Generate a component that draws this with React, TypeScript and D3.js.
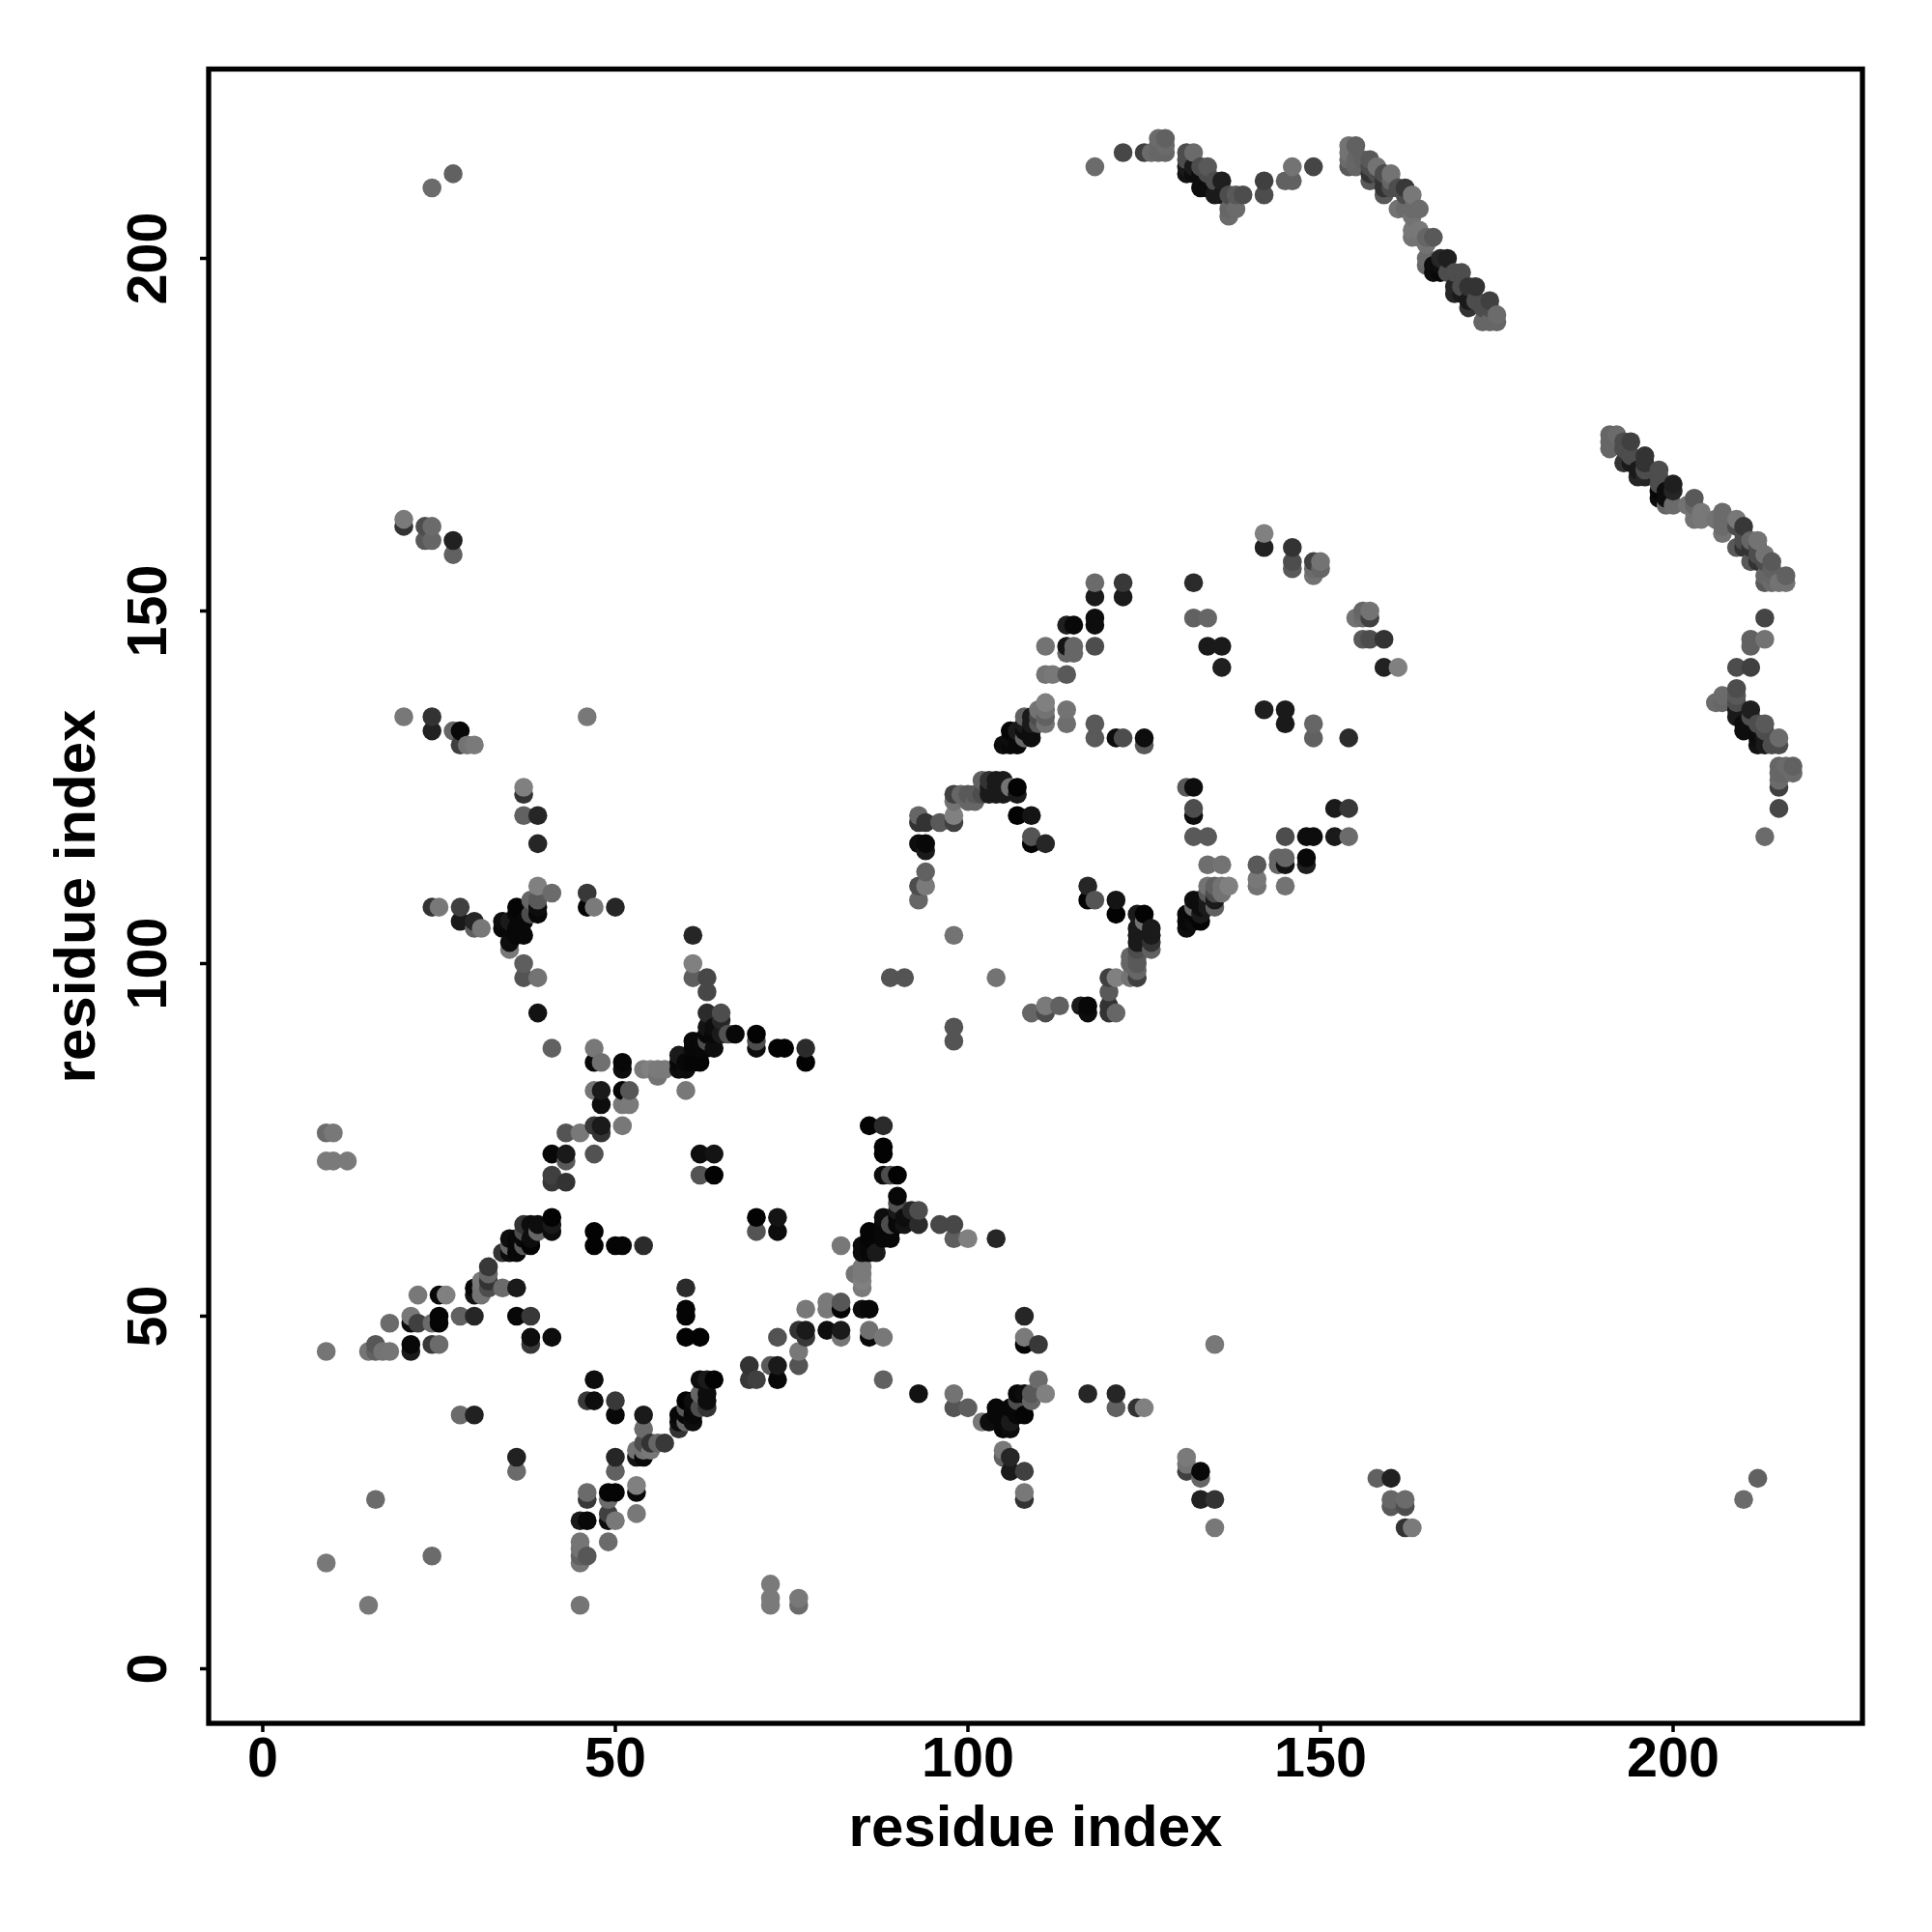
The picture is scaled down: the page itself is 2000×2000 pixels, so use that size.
import React from "react";
import * as d3 from "d3";

// Contacts as [residue i, residue j, grey level 0..1], i < j; the map is symmetric.
const nTerminalContacts = [[9,15,.47],[9,45,.46],[15,45,.46],[16,24,.42],[16,45,.38],[16,46,.34],[17,45,.45],[18,45,.46],[18,49,.42],[9,72,.48],[10,72,.48],[12,72,.48],[9,76,.42],[10,76,.47],[21,45,.1],[21,46,.03],[21,49,.05],[21,50,.47],[22,49,.25],[22,53,.47],[24,46,.22],[24,49,.42],[25,46,.42],[25,49,.02],[25,50,.02],[25,53,.03],[26,53,.5],[28,36,.42],[28,50,.38],[30,36,.13],[30,50,.15],[30,53,.08],[30,54,.03],[31,53,.45],[31,54,.45],[31,55,.47],[32,54,.3],[32,55,.2],[32,56,.4],[32,57,.22],[34,54,.42],[36,54,.1],[36,50,.03],[38,50,.22],[38,46,.22],[38,47,.05],[41,47,.05]];
const strandContactsA = [[34,59,.2],[35,59,.05],[36,59,.03],[35,60,.4],[36,60,.03],[37,60,.35],[38,60,.01],[35,61,.05],[36,61,.03],[37,61,.03],[38,61,.05],[37,62,.3],[39,62,.4],[41,62,.05],[37,63,.2],[38,63,.05],[39,63,.05],[41,63,.1],[41,64,.01],[47,60,.01],[50,60,.02],[51,60,.02],[54,60,.17],[47,62,.01],[41,69,.22],[43,69,.2],[41,70,.25],[41,73,.03],[43,72,.35],[43,73,.1],[47,73,.32],[43,76,.33],[45,76,.47],[48,76,.2],[47,77,.22],[48,77,.1],[51,77,.47],[62,70,.33],[64,70,.01],[62,73,.05],[64,73,.08]];
const strandContactsB = [[48,80,.05],[51,80,.47],[52,80,.48],[47,82,.46],[48,82,.1],[51,82,.02],[52,82,.34],[60,82,.47],[54,85,.48],[55,85,.5],[56,85,.48],[56,84,.45],[57,85,.48],[51,85,.05],[51,86,.03],[47,86,.03],[48,86,.44],[47,88,.47],[41,88,.38],[59,85,.05],[60,85,.05],[59,86,.03],[60,86,.03],[61,86,.02],[62,86,.02],[59,87,.1],[61,88,.03],[62,88,.03],[63,88,.03],[64,88,.05],[61,89,.03],[62,89,.03],[63,89,.3],[63,90,.03],[64,90,.03],[65,90,.1],[66,90,.32],[67,90,.03],[63,91,.08],[64,91,.05],[65,92,.15],[63,93,.17],[65,93,.3],[63,96,.28],[61,98,.37],[63,98,.28],[61,100,.5],[61,104,.15],[70,88,.05],[70,89,.3],[70,90,.01],[73,88,.01],[74,88,.01],[77,88,.17],[77,86,.01]];
const middleContacts = [[37,98,.33],[37,100,.37],[39,93,.07],[39,98,.45],[24,133,.13],[24,135,.2],[20,135,.47],[27,133,.4],[28,133,.03],[28,131,.25],[29,131,.45],[30,131,.48],[37,125,.5],[37,124,.2],[37,121,.38],[39,121,.15],[39,117,.15],[39,111,.5],[41,110,.42],[38,109,.4],[39,109,.35],[39,108,.05],[39,107,.03],[36,108,.02],[38,107,.3],[36,107,.03],[37,106,.03],[37,104,.03],[34,106,.05],[35,106,.1],[34,105,.03],[35,105,.03],[36,105,.03],[35,103,.05],[35,102,.47],[36,104,.03],[24,108,.2],[25,108,.47],[28,108,.25],[28,106,.1],[30,106,.15],[30,105,.38],[31,105,.47],[46,135,.47],[46,110,.22],[46,108,.02],[47,108,.48],[50,108,.15]];
const helixContacts = [[89,98,.33],[91,98,.33],[98,104,.45],[93,109,.4],[93,111,.3],[94,111,.48],[94,113,.38],[93,117,.05],[94,117,.03],[94,116,.1],[93,120,.2],[94,120,.2],[96,120,.35],[93,121,.4],[98,120,.25],[98,121,.5],[98,123,.45],[98,124,.25],[99,124,.4],[100,124,.35],[101,124,.35],[100,123,.4],[101,123,.4],[102,124,.3],[102,126,.38],[103,126,.2],[104,126,.1],[105,126,.1],[103,125,.1],[104,125,.1],[105,125,.1],[106,125,.45],[107,125,.01],[107,124,.1],[103,124,.1],[104,124,.1],[105,124,.1],[107,121,.01],[109,121,.08],[109,118,.33],[109,117,.02],[111,117,.15]];
const turnContacts = [[105,131,.05],[106,131,.03],[107,131,.03],[106,132,.05],[107,132,.03],[108,132,.4],[109,132,.05],[106,133,.02],[107,133,.1],[108,133,.05],[109,133,.05],[108,134,.1],[109,134,.1],[110,134,.35],[111,134,.45],[108,135,.38],[109,135,.1],[110,135,.3],[111,135,.38],[110,136,.45],[111,136,.45],[111,137,.5],[114,134,.43],[114,136,.45],[118,132,.35],[118,134,.35],[121,132,.05],[122,132,.3],[125,131,.35],[125,132,.05],[111,141,.45],[112,141,.47],[114,141,.35],[111,145,.45],[114,144,.4],[115,144,.4],[114,145,.08],[115,145,.4],[118,145,.3],[114,148,.12],[115,148,.03],[118,148,.05],[118,149,.05],[118,152,.1],[122,152,.1],[118,154,.42],[122,154,.22]];
const sheetContacts = [[132,149,.38],[134,149,.4],[132,154,.17],[134,145,.1],[136,145,.1],[136,142,.12],[142,159,.13],[142,161,.5],[146,159,.2],[146,157,.3],[146,156,.35],[149,157,.25],[150,157,.45],[150,156,.4],[149,155,.45],[149,156,.42]];
const distantContacts = [[20,163,.48],[20,162,.2],[23,162,.3],[24,162,.42],[23,160,.35],[24,160,.4],[27,160,.13],[27,158,.38],[24,210,.42],[27,212,.38],[118,213,.42],[122,215,.28],[125,215,.25],[126,215,.42],[127,215,.4],[128,215,.4],[127,216,.4],[128,216,.42],[127,217,.42],[128,217,.38],[131,212,.07],[132,212,.05],[133,212,.05],[134,212,.3],[131,213,.1],[132,213,.1],[133,213,.3],[134,213,.35],[131,214,.3],[131,215,.3],[132,215,.42],[133,210,.05],[134,210,.05],[135,209,.1],[136,209,.1],[135,211,.3],[136,211,.12],[137,209,.3],[138,209,.35],[139,209,.3],[137,207,.4],[138,207,.42],[137,206,.42],[142,209,.3],[142,211,.25],[145,211,.38],[146,211,.38],[146,213,.45],[149,213,.27]];
const betaLadderA = [[154,213,.35],[154,214,.42],[154,215,.45],[154,216,.45],[155,213,.4],[155,214,.4],[155,216,.38],[156,214,.38],[157,211,.35],[157,212,.2],[157,213,.3],[157,214,.35],[158,212,.3],[158,213,.45],[159,209,.35],[159,210,.2],[159,211,.2],[159,212,.3],[160,210,.3],[160,211,.4],[160,212,.45],[161,207,.45],[161,210,.3],[162,207,.42],[162,209,.3],[162,210,.22],[163,206,.45],[163,207,.42],[163,209,.47],[164,207,.42]];
const betaLadderB = [[163,203,.45],[163,204,.47],[164,203,.45],[164,204,.47],[165,199,.4],[165,200,.42],[165,202,.45],[165,203,.4],[166,198,.05],[166,199,.05],[166,203,.35],[167,198,.03],[167,199,.05],[167,200,.15],[168,198,.3],[168,200,.12],[169,195,.15],[169,196,.15],[169,198,.3],[170,195,.1],[170,196,.3],[170,198,.3],[171,193,.2],[171,194,.1],[171,196,.2],[172,194,.3],[172,196,.2],[173,191,.4],[173,193,.3],[174,191,.4],[174,193,.3],[174,194,.25],[175,191,.4],[175,192,.42]];

const contacts = [...nTerminalContacts, ...strandContactsA, ...strandContactsB, ...middleContacts, ...helixContacts, ...turnContacts, ...sheetContacts, ...distantContacts, ...betaLadderA, ...betaLadderB];
const xTicks = [0, 50, 100, 150, 200];
const yTicks = [0, 50, 100, 150, 200];
const axisLabel = "residue index";

const FONT = "'Liberation Sans', Arial, sans-serif";

export default function App() {
  const left = 216, right = 1928, top = 71.5, bottom = 1784;
  const x = d3.scaleLinear().domain([0, 200]).range([272, 1732]);
  const y = d3.scaleLinear().domain([0, 200]).range([1727.5, 267.5]);
  const pts: { x: number; y: number; g: number }[] = [];
  for (const [i, j, g] of contacts) {
    pts.push({ x: i, y: j, g }, { x: j, y: i, g });
  }
  pts.sort((p, q) => d3.ascending(p.x, q.x) || d3.ascending(p.y, q.y));
  const shade = d3.interpolateRgb("#000000", "#ffffff");
  return (
    <svg width={2000} height={2000} style={{ position: "absolute", left: 0, top: 0, background: "#fff" }} fontFamily={FONT} fontWeight="bold">
      {pts.map((p, i) => (
        <circle key={i} cx={x(p.x)} cy={y(p.y)} r={9.8} fill={shade(p.g)} />
      ))}
      <rect x={left} y={top} width={right - left} height={bottom - top} fill="none" stroke="#000" strokeWidth={5.3} />
      {xTicks.map((t) => (
        <g key={t}>
          <line x1={x(t)} x2={x(t)} y1={bottom} y2={bottom + 9} stroke="#000" strokeWidth={3.5} />
          <text x={x(t)} y={1839} textAnchor="middle" fontSize={57.5}>{t}</text>
        </g>
      ))}
      {yTicks.map((t) => (
        <g key={t}>
          <line x1={left - 9} x2={left} y1={y(t)} y2={y(t)} stroke="#000" strokeWidth={3.5} />
          <text transform={`translate(172,${y(t)}) rotate(-90)`} textAnchor="middle" fontSize={57.5}>{t}</text>
        </g>
      ))}
      <text x={1072} y={1911} textAnchor="middle" fontSize={60}>{axisLabel}</text>
      <text transform={`translate(98,928) rotate(-90)`} textAnchor="middle" fontSize={60}>{axisLabel}</text>
    </svg>
  );
}
